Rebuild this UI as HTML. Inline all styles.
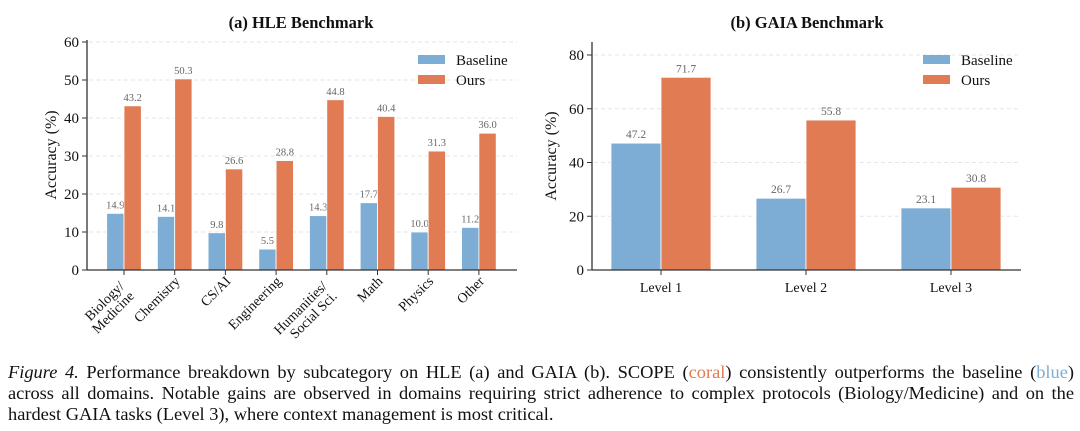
<!DOCTYPE html>
<html><head><meta charset="utf-8"><style>
html,body{margin:0;padding:0;background:#fff;width:1080px;height:431px;overflow:hidden}
svg{position:absolute;left:0;top:0}
#cap{position:absolute;left:8px;top:362px;width:1066px;font-family:"Liberation Serif",serif;font-size:18.4px;line-height:21px;color:#111}
#cap .ln{display:block;white-space:nowrap;text-align:justify;text-align-last:justify}
#cap .ln.last{text-align-last:left}
</style></head><body>
<svg id="chart" width="1080" height="350" xmlns="http://www.w3.org/2000/svg" font-family="Liberation Serif, serif"></svg>
<div id="cap"><span class="ln"><i>Figure 4.</i> Performance breakdown by subcategory on HLE (a) and GAIA (b). SCOPE (<span style="color:#e07b54">coral</span>) consistently outperforms the baseline (<span style="color:#7dadd4">blue</span>)</span><span class="ln">across all domains. Notable gains are observed in domains requiring strict adherence to complex protocols (Biology/Medicine) and on the</span><span class="ln last">hardest GAIA tasks (Level 3), where context management is most critical.</span></div>
<script>
const hleCats = [["Biology/","Medicine"],["Chemistry"],["CS/AI"],["Engineering"],["Humanities/","Social Sci."],["Math"],["Physics"],["Other"]];
const hleBase = [14.9,14.1,9.8,5.5,14.3,17.7,10.0,11.2];
const hleOurs = [43.2,50.3,26.6,28.8,44.8,40.4,31.3,36.0];
const hleTicks = [0,10,20,30,40,50,60];
const gaiaCats = ["Level 1","Level 2","Level 3"];
const gaiaBase = [47.2,26.7,23.1];
const gaiaOurs = [71.7,55.8,30.8];
const gaiaTicks = [0,20,40,60,80];

const NS="http://www.w3.org/2000/svg";
const svg=document.getElementById('chart');
function mk(tag,attrs,parent){const e=document.createElementNS(NS,tag);for(const k in attrs)e.setAttribute(k,attrs[k]);(parent||svg).appendChild(e);return e;}
const BLUE="#7dadd4",CORAL="#e07b54";

function panel(o){
  const g=mk('g',{});
  
  
  const y=v=>o.y0-(v-0)*(o.y0-o.yTop)/(o.yMax);
  const x=i=>o.c0+i*o.step;
  o.ticks.forEach(t=>{
    if(t>0){const gl=mk('line',{x1:o.ax+2,x2:o.right,y1:y(t),y2:y(t),stroke:'#e6e6e6','stroke-dasharray':'4,3','stroke-width':1},g);
    }
    const tk=mk('line',{x1:o.ax-5,x2:o.ax,y1:y(t),y2:y(t),stroke:'#333'},g);
    
    const tl=mk('text',{x:o.ax-8,y:y(t)+5,'text-anchor':'end','font-size':15,fill:'#111'},g);
    tl.textContent=t;
    
  });
  o.base.forEach((v,i)=>{
    [[v,BLUE,-1,'baseline'],[o.ours[i],CORAL,0,'ours']].forEach(([val,col,off,s])=>{
      const bx=x(i)+off*o.bw;
      const r=mk('rect',{x:bx,y:y(val),width:o.bw,height:o.y0-y(val),fill:col,stroke:'#fff','stroke-width':0.8},g);
      
      const t=mk('text',{x:bx+o.bw/2,y:y(val)-5,'text-anchor':'middle','font-size':o.vfs,fill:'#666'},g);
      t.textContent=val.toFixed(1);
      
    });
    const tk=mk('line',{x1:x(i),x2:x(i),y1:o.y0,y2:o.y0+5,stroke:'#333'},g);
    
    const lab=o.cats[i];
    let t;
    if(o.rot){
      const n=lab.length;
      t=mk('text',{transform:`translate(${x(i)+6-(n-1)*5},${o.y0+12+(n-1)*5}) rotate(-45)`,'text-anchor':'end','font-size':14,fill:'#111'},g);
      lab.forEach((ln,k)=>{const ts=mk('tspan',{x:0,dy:k?14:0},t);ts.textContent=ln;});
    } else {
      t=mk('text',{x:x(i),y:o.y0+22,'text-anchor':'middle','font-size':14,fill:'#111'},g);
      t.textContent=lab;
    }
    
  });
  const a1=mk('line',{x1:o.ax,x2:o.ax,y1:o.axTop,y2:o.y0,stroke:'#333','stroke-width':1.3},g);
  
  const a2=mk('line',{x1:o.ax,x2:o.right,y1:o.y0,y2:o.y0,stroke:'#333','stroke-width':1.3},g);
  
  const yt=mk('text',{transform:`translate(${o.ylx},${(o.y0+o.axTop)/2}) rotate(-90)`,'text-anchor':'middle','font-size':16,fill:'#111'},g);
  yt.textContent='Accuracy (%)';
  
  const ti=mk('text',{x:o.tx,y:28,'text-anchor':'middle','font-size':16.5,'font-weight':'bold',fill:'#111'},g);
  ti.textContent=o.title;
  
  [['Baseline',BLUE,55],['Ours',CORAL,75]].forEach(([n,c,ly])=>{
    const s=mk('rect',{x:o.lx,y:ly,width:27,height:9,fill:c},g);
    
    const lt=mk('text',{x:o.lx+38,y:ly+10,'font-size':15,fill:'#111'},g);
    lt.textContent=n;
    
  });
}
panel({name:'hle-chart',title:'(a) HLE Benchmark',cats:hleCats,base:hleBase,ours:hleOurs,ticks:hleTicks,yMax:60,
  ax:87,right:517,y0:270,yTop:42,axTop:40,c0:124,step:50.7,bw:17.3,rot:true,ylx:56,tx:301,lx:418,vfs:10.5});
panel({name:'gaia-chart',title:'(b) GAIA Benchmark',cats:gaiaCats,base:gaiaBase,ours:gaiaOurs,ticks:gaiaTicks,yMax:80,
  ax:592,right:1021,y0:270,yTop:55,axTop:42,c0:661,step:145,bw:50,rot:false,ylx:556,tx:807,lx:923,vfs:11.5});
</script>
</body></html>
